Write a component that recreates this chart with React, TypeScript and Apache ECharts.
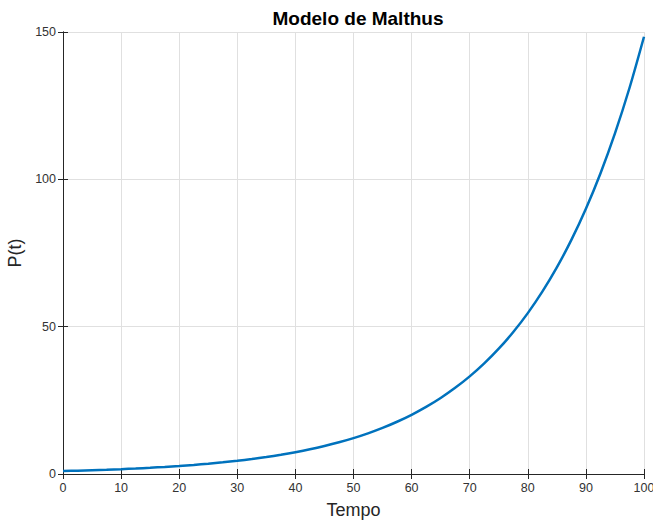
import React, { useEffect, useRef } from "react";
import * as echarts from "echarts";

// Population P(t) sampled along time t
const tempo: number[] = [
  0, 2.5, 5, 7.5, 10, 12.5, 15, 17.5, 20, 22.5, 25, 27.5, 30, 32.5, 35, 37.5, 40,
  42.5, 45, 47.5, 50, 52.5, 55, 57.5, 60, 62.5, 65, 67.5, 70, 72.5, 75, 77.5, 80,
  82.5, 85, 87.5, 90, 92.5, 95, 97.5, 100,
];
const populacao: number[] = [
  1.0, 1.13, 1.28, 1.45, 1.65, 1.87, 2.12, 2.4, 2.72, 3.08, 3.49, 3.96, 4.48,
  5.08, 5.75, 6.52, 7.39, 8.37, 9.49, 10.75, 12.18, 13.8, 15.64, 17.73, 20.09,
  22.76, 25.79, 29.23, 33.12, 37.53, 42.52, 48.19, 54.6, 61.87, 70.11, 79.44,
  90.02, 102.0, 115.6, 131.0, 148.4,
];

const xTicks = { min: 0, max: 100, interval: 10 };
const yTicks = { min: 0, max: 150, interval: 50 };

const FONT = "'Liberation Sans', Arial, Helvetica, sans-serif";
const AXIS = "#262626";

export default function App() {
  const ref = useRef<HTMLDivElement>(null);

  useEffect(() => {
    if (!ref.current) return;
    const chart = echarts.init(ref.current, undefined, { renderer: "svg" });
    const points = tempo.map((t, i) => [t, populacao[i]]);

    const baseAxisLine = { show: true, lineStyle: { color: AXIS, width: 1 } };
    const baseTick = { show: true, inside: true, length: 5, lineStyle: { color: AXIS, width: 1 } };

    chart.setOption({
      animation: false,
      backgroundColor: "#ffffff",
      title: {
        text: "Modelo de Malthus",
        left: 353,
        textAlign: "center",
        top: 4,
        textStyle: { fontFamily: FONT, fontSize: 19, fontWeight: "bold", color: "#000" },
      },
      grid: {
        left: 63,
        right: 9,
        top: 32,
        bottom: 47,
        containLabel: false,
        outerBoundsMode: "none",
      },
      xAxis: [
        {
          type: "value",
          ...xTicks,
          position: "bottom",
          name: "Tempo",
          nameLocation: "middle",
          nameGap: 27,
          nameTextStyle: { fontFamily: FONT, fontSize: 18, color: AXIS },
          axisLine: baseAxisLine,
          axisTick: baseTick,
          axisLabel: { margin: 7, fontFamily: FONT, fontSize: 12.5, color: "#333333" },
          splitLine: { show: true, lineStyle: { color: "#e0e0e0", width: 1 } },
        },
        {
          type: "value",
          ...xTicks,
          position: "top",
          axisLine: baseAxisLine,
          axisTick: baseTick,
          axisLabel: { show: false },
          splitLine: { show: false },
        },
      ],
      yAxis: [
        {
          type: "value",
          ...yTicks,
          position: "left",
          name: "P(t)",
          nameLocation: "middle",
          nameGap: 30,
          nameRotate: 90,
          nameTextStyle: { fontFamily: FONT, fontSize: 18, color: AXIS },
          axisLine: baseAxisLine,
          axisTick: baseTick,
          axisLabel: { margin: 7, fontFamily: FONT, fontSize: 12.5, color: "#333333" },
          splitLine: { show: true, lineStyle: { color: "#e0e0e0", width: 1 } },
        },
        {
          type: "value",
          ...yTicks,
          position: "right",
          axisLine: baseAxisLine,
          axisTick: baseTick,
          axisLabel: { show: false },
          splitLine: { show: false },
        },
      ],
      series: [
        {
          type: "line",
          data: points,
          smooth: 0.3,
          showSymbol: false,
          lineStyle: { color: "#0072BD", width: 2.5 },
          z: 5,
        },
      ],
    });
    return () => chart.dispose();
  }, []);

  return <div ref={ref} style={{ width: 653, height: 521, position: "absolute", left: 0, top: 0 }} />;
}
